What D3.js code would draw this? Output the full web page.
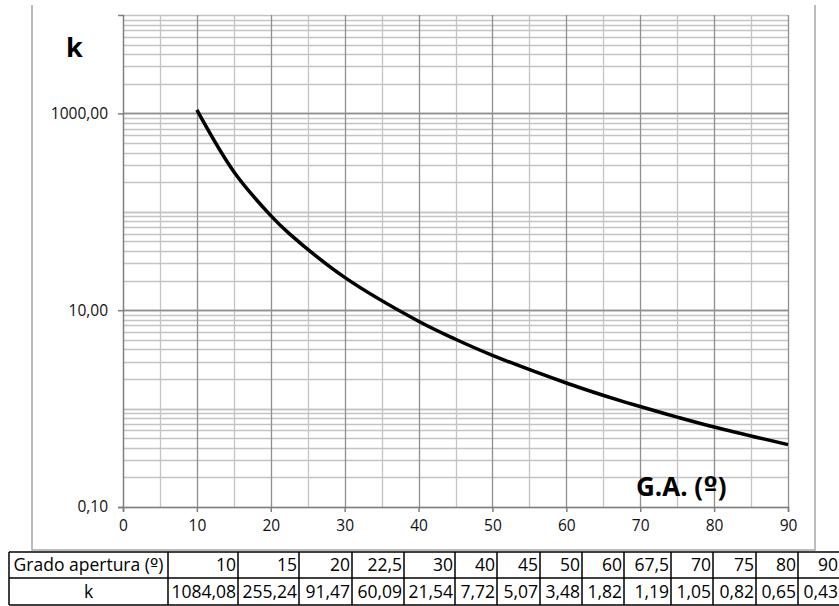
<!DOCTYPE html>
<html>
<head>
<meta charset="utf-8">
<script src="https://cdn.jsdelivr.net/npm/d3@7"></script>
<style>
  body { margin: 0; background: #fff; }
  svg { display: block; font-family: "Open Sans", Lato, sans-serif; }
  .ord { font-family: "DejaVu Sans", sans-serif; }
</style>
</head>
<body>
<div id="chart"></div>
<script>
// data
const grado = [10, 15, 20, 22.5, 30, 40, 45, 50, 60, 67.5, 70, 75, 80, 90];
const kValues = [1084.08, 255.24, 91.47, 60.09, 21.54, 7.72, 5.07, 3.48, 1.82, 1.19, 1.05, 0.82, 0.65, 0.43];
const yTicks = [0.1, 10, 1000];
const xTicks = [0, 10, 20, 30, 40, 50, 60, 70, 80, 90];
const rowLabels = ["Grado apertura (º)", "k"];

const width = 839, height = 606;
const plot = {left: 123, right: 788, top: 15, bottom: 507};

const locale = d3.formatLocale({decimal: ",", thousands: "", grouping: [3], currency: ["", ""]});
const fmt2 = locale.format(".2f");
const fmtG = v => locale.format(",")(v);

// writes text, putting the "º" sign in a font that draws it underlined
function ordText(sel, str) {
  str.split(/(º)/).forEach(function(part) {
    if (!part) return;
    sel.append("tspan").attr("class", part == "º" ? "ord" : null).text(part);
  });
}

const svg = d3.select("#chart").append("svg")
  .attr("width", width)
  .attr("height", height);

const xScale = d3.scaleLinear().domain([0, 90]).range([plot.left, plot.right]);
const yScale = d3.scaleLog().domain([0.1, 10000]).range([plot.bottom, plot.top]);

// chart area frame
svg.append("path")
  .attr("d", `M32,5 V550 H815 V5`)
  .attr("fill", "none")
  .attr("stroke", "#a6a6a6")
  .attr("stroke-width", 1.5);

// horizontal minor gridlines (log)
let minor = [];
for (let e = -1; e < 4; e++) {
  for (let m = 1; m <= 10; m++) minor.push(m * Math.pow(10, e));
}
svg.append("g").selectAll("line")
  .data(minor)
  .join("line")
    .attr("x1", plot.left).attr("x2", plot.right)
    .attr("y1", d => Math.round(yScale(d)) + 0.5)
    .attr("y2", d => Math.round(yScale(d)) + 0.5)
    .attr("stroke", "#c4c4c4")
    .attr("stroke-width", 1.3);

// vertical gridlines every 5
svg.append("g").selectAll("line")
  .data(d3.range(5, 95, 10))
  .join("line")
    .attr("x1", d => Math.round(xScale(d)) + 0.5)
    .attr("x2", d => Math.round(xScale(d)) + 0.5)
    .attr("y1", plot.top).attr("y2", plot.bottom)
    .attr("stroke", "#c4c4c4")
    .attr("stroke-width", 1.3);

svg.append("g").selectAll("line")
  .data(xTicks.slice(1))
  .join("line")
    .attr("x1", d => Math.round(xScale(d)) + 0.5)
    .attr("x2", d => Math.round(xScale(d)) + 0.5)
    .attr("y1", plot.top).attr("y2", plot.bottom)
    .attr("stroke", "#8f8f8f")
    .attr("stroke-width", 1.3);

// major horizontal gridlines
svg.append("g").selectAll("line")
  .data(yTicks.slice(1))
  .join("line")
    .attr("x1", plot.left).attr("x2", plot.right)
    .attr("y1", d => Math.round(yScale(d)) + 0.5)
    .attr("y2", d => Math.round(yScale(d)) + 0.5)
    .attr("stroke", "#8f8f8f")
    .attr("stroke-width", 1.3);

// axes
const xAxis = svg.append("g")
  .attr("transform", `translate(0, ${plot.bottom})`)
  .call(d3.axisBottom(xScale).tickValues(xTicks).tickSize(5).tickPadding(8).tickFormat(d => d));

const yAxis = svg.append("g")
  .attr("transform", `translate(${plot.left}, 0)`)
  .call(d3.axisLeft(yScale).tickValues(yTicks).tickSize(5).tickPadding(10).tickFormat(fmt2));

svg.selectAll(".domain, .tick line")
  .attr("stroke", "#7f7f7f")
  .attr("stroke-width", 1.5);
svg.selectAll(".tick text")
  .attr("font-family", "'Open Sans', sans-serif")
  .attr("font-size", 15.5)
  .attr("fill", "#111");

// curve
const line = d3.line()
  .x((d, i) => xScale(grado[i]))
  .y(d => yScale(d))
  .curve(d3.curveCatmullRom.alpha(0.5));

svg.append("path")
  .datum(kValues)
  .attr("d", line)
  .attr("fill", "none")
  .attr("stroke", "#000")
  .attr("stroke-width", 3.5);

// axis titles
svg.append("text")
  .attr("x", 66).attr("y", 57)
  .attr("font-size", 27)
  .attr("font-weight", "bold")
  .text("k");

svg.append("text")
  .attr("x", 636).attr("y", 496)
  .attr("font-size", 26)
  .attr("font-weight", "bold")
  .call(ordText, "G.A. (º)");

// data table
const colWidths = [159, 70, 61, 53, 52, 51, 42, 43, 42, 42, 47, 42, 43, 42, 42];
const tableX = 9, rowY = [552, 578, 605];
let colX = [tableX];
colWidths.forEach(w => colX.push(colX[colX.length - 1] + w));

const table = svg.append("g").attr("font-size", 17.5).attr("fill", "#000");

const rows = [grado.map(d => fmtG(d)), kValues.map(fmt2)];

rows.forEach(function(vals, r) {
  const yMid = (rowY[r] + rowY[r + 1]) / 2;
  table.append("text")
    .attr("x", (colX[0] + colX[1]) / 2)
    .attr("y", yMid)
    .attr("dy", "0.36em")
    .attr("text-anchor", "middle")
    .call(ordText, rowLabels[r]);
  vals.forEach(function(v, i) {
    table.append("text")
      .attr("x", colX[i + 2] - 2)
      .attr("y", yMid)
      .attr("dy", "0.36em")
      .attr("text-anchor", "end")
      .text(v);
  });
});

// table borders
const grid = svg.append("g").attr("stroke", "#000").attr("stroke-width", 1.5);
rowY.forEach(y => grid.append("line")
  .attr("x1", tableX).attr("x2", width + 2).attr("y1", y).attr("y2", y));
colX.forEach(x => grid.append("line")
  .attr("x1", x).attr("x2", x).attr("y1", rowY[0]).attr("y2", rowY[2]));
</script>
</body>
</html>
